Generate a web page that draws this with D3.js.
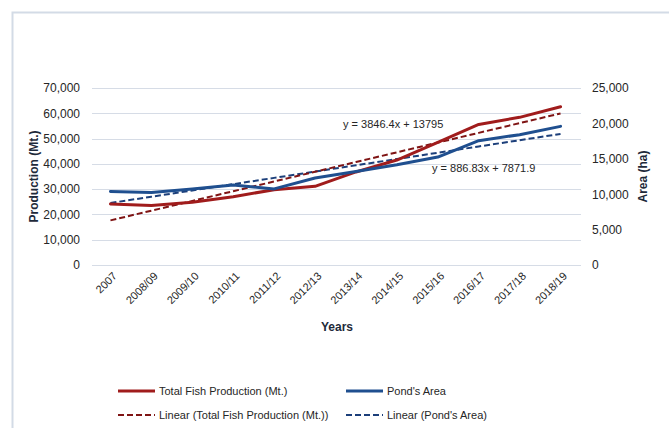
<!DOCTYPE html>
<html>
<head>
<meta charset="utf-8">
<script src="https://cdn.jsdelivr.net/npm/d3@7"></script>
<style>
  html, body { margin: 0; padding: 0; background: #ffffff; }
  svg { display: block; font-family: "Liberation Sans", Arial, sans-serif; }
</style>
</head>
<body>
<svg id="chart" width="669" height="428"></svg>
<script>
// ---- data ----
const categories = ["2007", "2008/09", "2009/10", "2010/11", "2011/12", "2012/13",
                    "2013/14", "2014/15", "2015/16", "2016/17", "2017/18", "2018/19"];
const production = [24100, 23500, 24800, 27000, 29800, 31100, 36800, 41500, 48500, 55600, 58400, 62600];
const pondArea   = [10380, 10240, 10720, 11290, 10750, 12280, 13210, 14160, 15250, 17560, 18410, 19580];
const trendCoefProduction = [3846.4, 13795];   // slope, intercept
const trendCoefArea       = [886.83, 7871.9];
const leftTicks  = [0, 10000, 20000, 30000, 40000, 50000, 60000, 70000];
const rightTicks = [0, 5000, 10000, 15000, 20000, 25000];
const seriesNames = ["Total Fish Production (Mt.)", "Pond's Area",
                     "Linear (Total Fish Production (Mt.))", "Linear (Pond's Area)"];

// ---- styles ----
const RED = "#a01c1c", RED_DASH = "#7f1414", BLUE = "#1f4f8f", BLUE_DASH = "#1c3f7a";
const GRID = "#d6dce6", TEXT = "#262626";

const svg = d3.select("#chart");

// frame
svg.append("path").attr("d", "M12.5,428 V12.5 H669")
   .attr("fill", "none").attr("stroke", "#d3dbe6").attr("stroke-width", 2);

const x = d3.scalePoint().domain(categories).range([90, 581]).padding(0.5);
const yL = d3.scaleLinear().domain([0, 70000]).range([265, 88]);
const yR = d3.scaleLinear().domain([0, 25000]).range([265, 88]);
const fmt = d3.format(",");

// gridlines
svg.append("g").selectAll("line").data(leftTicks).join("line")
  .attr("x1", 92).attr("x2", 581)
  .attr("y1", d => Math.round(yL(d)) + 0.5).attr("y2", d => Math.round(yL(d)) + 0.5)
  .attr("stroke", GRID).attr("stroke-width", 1);

// left axis
const gL = svg.append("g").attr("transform", "translate(80,0)")
  .call(d3.axisLeft(yL).tickValues(leftTicks).tickFormat(fmt).tickSize(0).tickPadding(0));
gL.select(".domain").remove();
gL.selectAll("text").attr("fill", TEXT).style("font-size", "12px")
  .style("font-family", "'Liberation Sans', Arial, sans-serif");

// right axis
const gR = svg.append("g").attr("transform", "translate(592,0)")
  .call(d3.axisRight(yR).tickValues(rightTicks).tickFormat(fmt).tickSize(0).tickPadding(0));
gR.select(".domain").remove();
gR.selectAll("text").attr("fill", TEXT).style("font-size", "12px")
  .style("font-family", "'Liberation Sans', Arial, sans-serif");

// x axis labels
const gX = svg.append("g").attr("transform", "translate(0,266)")
  .call(d3.axisBottom(x).tickSize(0).tickPadding(0));
gX.select(".domain").remove();
gX.selectAll("text")
  .attr("fill", TEXT).style("font-size", "11px")
  .style("font-family", "'Liberation Sans', Arial, sans-serif")
  .attr("text-anchor", "end")
  .attr("transform", "translate(4,8) rotate(-45)")
  .attr("dy", "0.35em").attr("y", 0).attr("x", 0);

// axis titles
svg.append("text").attr("transform", `translate(38,${(88 + 265) / 2}) rotate(-90)`)
  .attr("text-anchor", "middle").attr("font-size", 12).attr("font-weight", "bold")
  .attr("fill", "#1e2a3a").text("Production (Mt.)");
svg.append("text").attr("transform", `translate(647,${(88 + 265) / 2}) rotate(-90)`)
  .attr("text-anchor", "middle").attr("font-size", 12).attr("font-weight", "bold")
  .attr("fill", "#1e2a3a").text("Area (ha)");
svg.append("text").attr("x", 337).attr("y", 331)
  .attr("text-anchor", "middle").attr("font-size", 12).attr("font-weight", "bold")
  .attr("fill", "#1e2a3a").text("Years");

// trend lines
const idx = categories.map((c, i) => i + 1);
const trendLine = (coef, scale) => d3.line()
  .x((d, i) => x(categories[i]))
  .y(d => scale(coef[0] * d + coef[1]));

svg.append("path").datum(idx).attr("d", trendLine(trendCoefArea, yR))
  .attr("fill", "none").attr("stroke", BLUE_DASH).attr("stroke-width", 2)
  .attr("stroke-dasharray", "6,3");
svg.append("path").datum(idx).attr("d", trendLine(trendCoefProduction, yL))
  .attr("fill", "none").attr("stroke", RED_DASH).attr("stroke-width", 2)
  .attr("stroke-dasharray", "6,3");

// series lines
const lineL = d3.line().x((d, i) => x(categories[i])).y(d => yL(d));
const lineR = d3.line().x((d, i) => x(categories[i])).y(d => yR(d));
svg.append("path").datum(production).attr("d", lineL)
  .attr("fill", "none").attr("stroke", RED).attr("stroke-width", 3)
  .attr("stroke-linejoin", "round").attr("stroke-linecap", "round");
svg.append("path").datum(pondArea).attr("d", lineR)
  .attr("fill", "none").attr("stroke", BLUE).attr("stroke-width", 3)
  .attr("stroke-linejoin", "round").attr("stroke-linecap", "round");

// equation labels
svg.append("text").attr("x", 343).attr("y", 128).attr("font-size", 11)
  .attr("fill", TEXT)
  .text(`y = ${trendCoefProduction[0]}x + ${trendCoefProduction[1]}`);
svg.append("text").attr("x", 432).attr("y", 172).attr("font-size", 11)
  .attr("fill", TEXT)
  .text(`y = ${trendCoefArea[0]}x + ${trendCoefArea[1]}`);

// legend
const legendItems = [
  { name: seriesNames[0], color: RED, dash: null, w: 3, x: 118, y: 391 },
  { name: seriesNames[1], color: BLUE, dash: null, w: 3, x: 346, y: 391 },
  { name: seriesNames[2], color: RED_DASH, dash: "6,3", w: 2, x: 118, y: 415 },
  { name: seriesNames[3], color: BLUE_DASH, dash: "6,3", w: 2, x: 346, y: 415 }
];
const lg = svg.append("g").selectAll("g").data(legendItems).join("g")
  .attr("transform", d => `translate(${d.x},${d.y})`);
lg.append("line").attr("x1", 0).attr("x2", 37).attr("y1", 0).attr("y2", 0)
  .attr("stroke", d => d.color).attr("stroke-width", d => d.w)
  .attr("stroke-dasharray", d => d.dash);
lg.append("text").attr("x", 41).attr("dy", "0.35em").attr("font-size", 11)
  .attr("fill", TEXT).text(d => d.name);
</script>
</body>
</html>
